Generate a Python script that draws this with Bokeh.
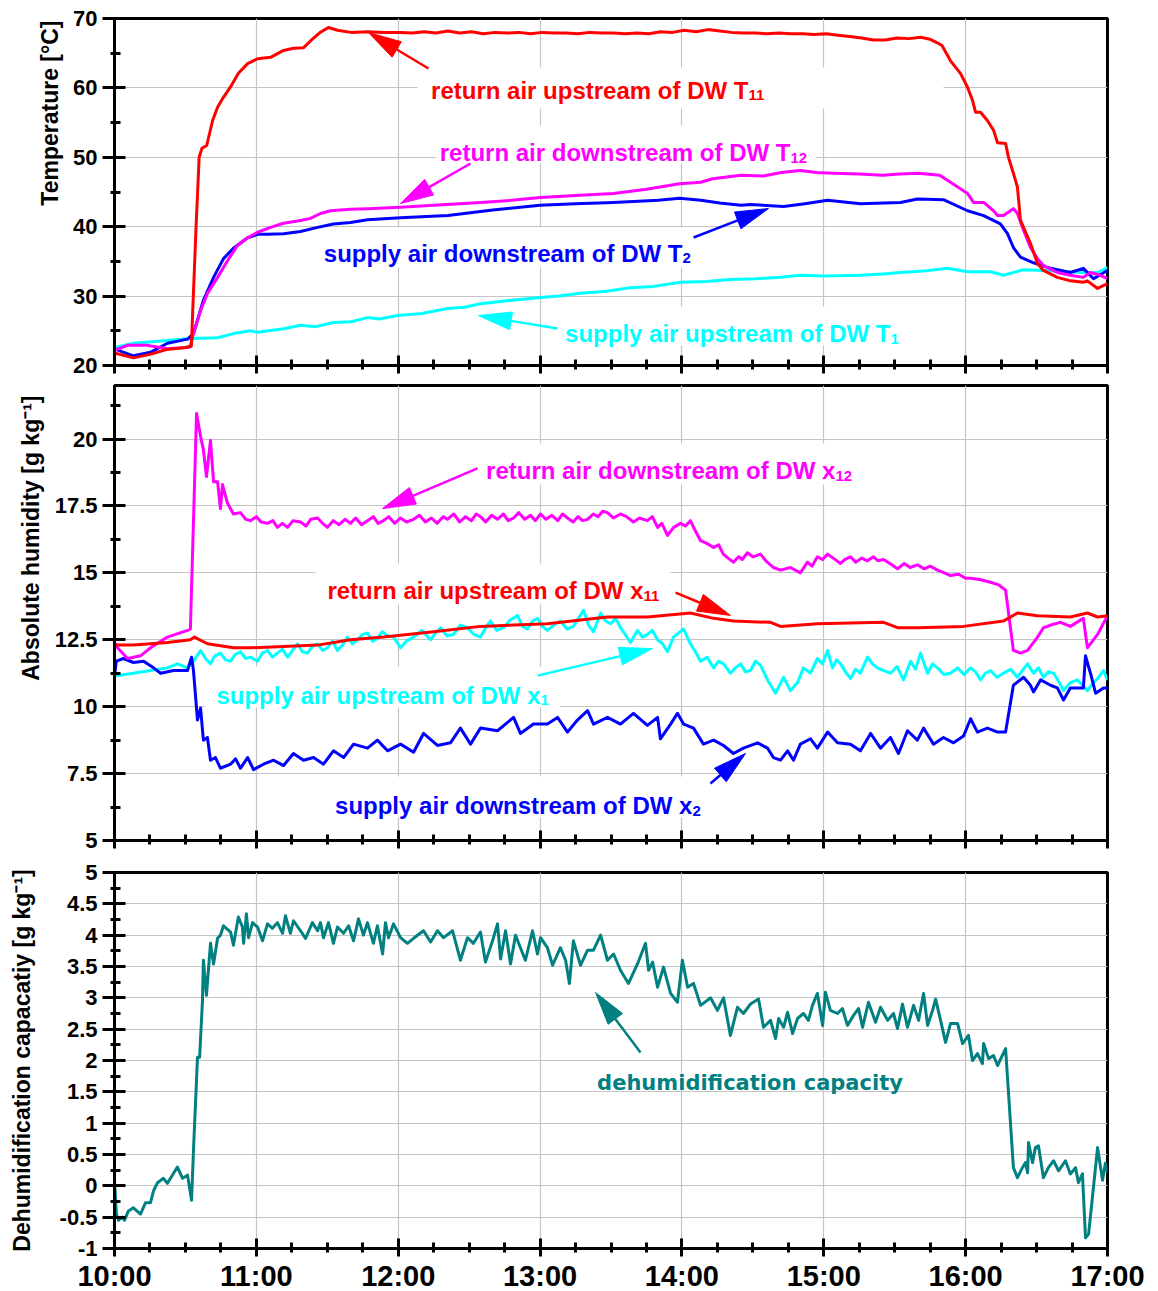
import math
from bokeh.plotting import figure
from bokeh.layouts import column
from bokeh.models import Range1d, FixedTicker, NumeralTickFormatter, Label, BoxAnnotation, Title
from bokeh.embed import file_html
from bokeh.resources import INLINE

# ------------------------------------------------------------------ data
HOURS = [10, 11, 12, 13, 14, 15, 16, 17]
HOUR_LABELS = ["10:00", "11:00", "12:00", "13:00", "14:00", "15:00", "16:00", "17:00"]

# Temperatures (minutes after 10:00, degC)
T11_RETURN_UP = [(0, 21.8), (8, 21.1), (15, 21.6), (22, 22.3), (30, 22.6), (32.5, 22.8), (34.5, 40.0), (35.8, 50.0),
    (37, 51.3), (39, 51.7), (41.5, 55.3), (43.6, 57.2), (46, 58.6), (49, 60.1), (52.4, 62.1), (56.3, 63.5),
    (60.5, 64.2), (66, 64.4), (71.5, 65.4), (75.7, 65.7), (80, 65.8), (83, 66.8), (87, 68.0), (90.5, 68.7),
    (94.3, 68.3), (100, 68.0), (107, 68.1), (114, 68.0), (121, 68.0), (126, 67.9), (131, 68.1), (136, 67.9),
    (141, 68.2), (146, 67.9), (151, 68.1), (156, 67.8), (161, 68.0), (166, 67.9), (171, 68.0), (176, 67.8),
    (181, 68.0), (186, 67.9), (191, 67.9), (196, 67.8), (201, 68.0), (206, 67.9), (211, 67.9), (216, 67.8),
    (221, 67.9), (226, 67.8), (231, 68.1), (236, 68.0), (241, 68.3), (246, 68.1), (251, 68.4), (256, 68.2),
    (261, 68.0), (266, 67.9), (271, 67.9), (276, 67.8), (281, 67.9), (286, 67.8), (291, 67.8), (296, 67.7),
    (301, 67.8), (306, 67.6), (311, 67.4), (316, 67.2), (321, 66.9), (326, 66.9), (331, 67.2), (336, 67.1),
    (341, 67.3), (345, 67.0), (348, 66.5), (350, 66.1), (353.6, 63.9), (357.8, 62.1), (360.8, 60.1),
    (362.9, 58.2), (364.2, 56.5), (366.3, 56.5), (369.2, 55.3), (371.8, 53.9), (373.5, 52.1), (376.9, 52.0),
    (378.1, 50.0), (380.2, 47.7), (381.9, 45.7), (383.2, 40.9), (384.5, 39.9), (387.4, 37.6), (390.4, 34.7),
    (392.9, 33.7), (398.8, 32.7), (404.3, 32.2), (409.8, 32.0), (411.5, 32.2), (415.8, 31.1), (420, 31.8)]

T12_RETURN_DOWN = [(0, 22.2), (5.5, 22.9), (14, 22.9), (22.4, 22.4), (30.9, 22.6), (32, 22.7), (33.4, 24.6),
    (36.4, 27.9), (39.3, 30.4), (43.6, 32.7), (47.8, 35.1), (52, 37.3), (56.3, 38.4), (60.5, 39.2), (66, 39.9),
    (71.5, 40.5), (78.7, 40.9), (82.9, 41.2), (87.1, 41.9), (91.4, 42.3), (99.8, 42.5), (107, 42.6), (121, 42.8),
    (135, 43.1), (155, 43.5), (168, 43.8), (180, 44.2), (195, 44.5), (211, 44.8), (225, 45.4), (239, 46.2),
    (248, 46.4), (253, 46.9), (265, 47.4), (274.5, 47.3), (282, 47.8), (290, 48.1), (297, 47.8), (304, 47.7),
    (315, 47.6), (325, 47.4), (332, 47.6), (340, 47.7), (349, 47.4), (353.6, 46.4), (360.8, 44.8), (363.3, 43.5),
    (367.6, 43.5), (371.8, 42.3), (373.5, 41.6), (376, 41.6), (380.2, 42.6), (381.9, 41.9), (384.5, 39.5),
    (387.4, 37.0), (390.4, 35.4), (392.9, 34.4), (398.8, 33.4), (404.3, 33.0), (409.8, 32.7), (412.8, 33.4),
    (417, 33.0), (420, 32.5)]

T2_SUPPLY_DOWN = [(0, 22.4), (8, 21.4), (15.2, 21.9), (22.4, 23.2), (30.9, 23.8), (33.4, 24.6), (37.6, 29.4),
    (41.9, 32.7), (46.1, 35.4), (50.3, 36.9), (56.3, 38.4), (60.5, 38.9), (64.7, 38.9), (71.5, 39.0), (78.7, 39.3),
    (85.9, 39.9), (92.6, 40.4), (99.8, 40.6), (107, 41.0), (121, 41.3), (141, 41.6), (160, 42.4), (180, 43.1),
    (195, 43.3), (211, 43.5), (230, 43.8), (239, 44.1), (248, 43.8), (256, 43.4), (265, 43.1), (269, 43.2),
    (283, 42.9), (292, 43.3), (301.6, 43.8), (315.5, 43.3), (332.4, 43.5), (339.6, 44.0), (350.6, 43.9),
    (360.8, 42.3), (367.6, 41.6), (374.7, 40.4), (377.7, 39.0), (380.2, 37.0), (383.2, 35.6), (388.7, 34.8),
    (395.9, 34.0), (404.3, 33.4), (409.8, 34.0), (414.1, 32.5), (420, 33.7)]

T1_SUPPLY_UP = [(0, 22.6), (8, 23.2), (22.4, 23.6), (32, 23.9), (43.6, 24.0), (50.3, 24.6), (57.5, 25.0),
    (60.5, 24.8), (71.5, 25.3), (78.7, 25.8), (85, 25.6), (92.6, 26.2), (100, 26.3), (107, 26.9), (112, 26.7),
    (119.7, 27.2), (130, 27.5), (140.8, 28.2), (148, 28.4), (154.8, 28.9), (165, 29.3), (180.2, 29.8), (188, 30.0),
    (197, 30.4), (208, 30.7), (218, 31.2), (228, 31.4), (239.4, 32.0), (250, 32.1), (260.5, 32.4), (271, 32.5),
    (281.7, 32.7), (290, 33.0), (300, 32.9), (315.5, 33.0), (325, 33.2), (332.4, 33.4), (342, 33.6), (352.3, 34.0),
    (360.8, 33.5), (370.5, 33.5), (376, 33.0), (384.5, 33.8), (392.9, 33.7), (409.8, 33.4), (415.8, 33.4),
    (420, 34.1)]

# Absolute humidity (minutes after 10:00, g/kg)
X12_RETURN_DOWN = [(0, 12.4), (1.3, 12.2), (5.5, 11.8), (11, 11.9), (15.2, 12.2), (22.4, 12.6), (30.9, 12.85),
    (32.1, 12.9), (34.7, 20.95), (36.4, 20.1), (37.6, 19.6), (38.9, 18.6), (40.6, 19.95), (41.9, 18.4),
    (43.6, 18.4), (44.8, 17.4), (45.7, 18.3), (47.8, 17.6), (50.3, 17.2), (53.3, 17.25), (55.5, 17.0),
    (57.5, 16.95), (60, 17.1), (62, 16.9), (64.7, 16.85), (67, 16.95), (68.9, 16.7), (71, 16.85), (73.2, 16.7),
    (75.5, 16.95), (78.7, 16.9), (81, 16.75), (83, 17.0), (85.9, 17.05), (88, 16.85), (90.1, 16.7), (92.5, 16.95),
    (95, 16.8), (97.5, 17.0), (99.8, 16.85), (102, 17.05), (104.5, 16.8), (107, 16.95), (109.5, 17.1),
    (111.5, 16.85), (113.8, 16.95), (116, 17.1), (118.5, 16.85), (121, 17.05), (123.5, 16.9), (126.5, 17.0),
    (129, 17.15), (131.5, 16.9), (134, 17.05), (136.5, 16.85), (139, 17.1), (140.8, 17.0), (143.5, 17.2),
    (146, 16.9), (148.5, 17.1), (151, 16.95), (153, 17.2), (154.8, 17.1), (157, 16.9), (159.5, 17.15), (162, 17.0),
    (164.5, 17.2), (166.5, 16.95), (168.8, 17.05), (171, 17.25), (173.5, 17.0), (176, 17.15), (178, 16.95),
    (180.2, 17.2), (182.5, 17.0), (185, 17.15), (187.5, 16.95), (189.5, 17.2), (191.6, 17.05), (194, 16.9),
    (196, 17.1), (198, 16.95), (200.1, 17.0), (202.5, 17.2), (204.5, 17.1), (206.5, 17.3), (208.5, 17.25),
    (211, 17.05), (214, 17.2), (216.5, 17.1), (219.5, 16.9), (222, 17.05), (225.4, 16.95), (227.5, 17.1),
    (229.7, 16.7), (231.5, 16.85), (233.9, 16.4), (236.5, 16.7), (239.4, 16.85), (241.5, 16.75), (243.6, 16.95),
    (245.5, 16.6), (247.9, 16.2), (250.5, 16.1), (253.4, 15.95), (255.5, 16.05), (257.5, 15.7), (259.5, 15.55),
    (261.8, 15.4), (264, 15.6), (265.5, 15.5), (267.7, 15.75), (270, 15.6), (273.2, 15.7), (275.5, 15.45),
    (278.7, 15.2), (281.7, 15.1), (285.9, 15.2), (290.1, 15.0), (293.1, 15.4), (295, 15.25), (297.3, 15.6),
    (299.5, 15.5), (301.6, 15.7), (304, 15.55), (307.1, 15.35), (309, 15.5), (311.3, 15.6), (313.5, 15.4),
    (316, 15.55), (318.5, 15.45), (321, 15.6), (323, 15.45), (325.3, 15.5), (328, 15.35), (331.2, 15.15),
    (334, 15.35), (336.5, 15.2), (339.6, 15.3), (342.5, 15.15), (345, 15.25), (348.1, 15.1), (351, 15.0),
    (353.6, 14.9), (357, 14.95), (360, 14.8), (362.1, 14.8), (366, 14.75), (370.5, 14.65), (374, 14.55),
    (376.9, 14.35), (380.2, 12.1), (383.2, 12.0), (386.2, 12.1), (390.4, 12.6), (392.9, 12.95), (396, 13.05),
    (400.1, 13.15), (404.3, 13.0), (407, 13.15), (409.8, 13.3), (411.5, 12.2), (415.8, 12.7), (420, 13.4)]

X11_RETURN_UP = [(0, 12.3), (8, 12.3), (22.4, 12.4), (32.1, 12.5), (33.8, 12.6), (39.3, 12.35), (50.3, 12.2),
    (57.5, 12.2), (71.5, 12.25), (85.9, 12.3), (99.8, 12.5), (113.8, 12.6), (135, 12.8), (154.8, 13.0),
    (183.1, 13.1), (208.5, 13.35), (225.4, 13.35), (243.6, 13.5), (253.4, 13.3), (261.8, 13.2), (277.5, 13.15),
    (281.7, 13.0), (297.3, 13.1), (325.3, 13.15), (331.2, 12.95), (339.6, 12.95), (359.1, 13.0), (376, 13.2),
    (381.9, 13.5), (390.4, 13.4), (404.3, 13.35), (411.5, 13.5), (415.8, 13.35), (420, 13.4)]

X1_SUPPLY_UP = [(0, 11.15), (8, 11.25), (15.2, 11.35), (22.4, 11.45), (26.6, 11.6), (30.9, 11.45), (33.4, 11.7),
    (36.4, 12.1), (38.5, 11.8), (40.6, 11.6), (42.5, 11.9), (44.8, 12.0), (47, 11.75), (49.1, 11.7), (51, 11.95),
    (53.3, 12.05), (55.5, 11.8), (57.5, 11.85), (60.5, 11.7), (62.5, 12.0), (64.7, 12.1), (66.8, 11.85),
    (68.9, 12.0), (71, 12.15), (73.2, 11.85), (75.3, 12.1), (77.4, 12.35), (79.5, 12.05), (81.6, 12.0),
    (83.7, 12.25), (85.9, 12.35), (88, 12.1), (90.1, 12.2), (92.2, 12.45), (94.3, 12.1), (96.4, 12.3),
    (98.5, 12.6), (100.6, 12.35), (102.8, 12.5), (104.9, 12.7), (107, 12.75), (109.1, 12.45), (111.2, 12.55),
    (113.3, 12.8), (115.5, 12.65), (118, 12.6), (121, 12.2), (123.5, 12.45), (126.5, 12.6), (130, 12.85),
    (133.7, 12.5), (135.8, 12.75), (137.9, 12.95), (140.6, 12.65), (143.4, 12.7), (146.3, 13.05), (149.3, 12.95),
    (152, 12.7), (154.8, 12.6), (157, 12.95), (159, 13.2), (161.7, 12.85), (164.5, 12.95), (167.5, 13.25),
    (170.5, 13.4), (172.6, 13.0), (174.7, 12.9), (176.8, 13.2), (178.9, 13.3), (181, 13.0), (183.1, 12.85),
    (185.8, 13.05), (188.6, 13.2), (191.4, 12.9), (194.1, 13.0), (196.2, 13.3), (198.4, 13.6), (200.5, 13.05),
    (202.6, 12.8), (205.6, 13.5), (207.7, 13.2), (209.8, 13.1), (212, 13.3), (214, 12.95), (216, 12.7),
    (218.2, 12.4), (221.2, 12.85), (223.3, 12.6), (225.4, 12.7), (227.5, 12.85), (229.7, 12.5), (231.8, 12.35),
    (233.9, 12.05), (236.4, 12.6), (238.5, 12.75), (240.7, 12.9), (243.6, 12.35), (245.7, 12.05),
    (247.9, 11.7), (250.6, 11.85), (253.4, 11.45), (255.5, 11.7), (257.6, 11.6), (260.5, 11.25), (262.6, 11.45),
    (264.8, 11.6), (266.9, 11.3), (269, 11.35), (271.1, 11.7), (273.2, 11.55), (276.2, 11.0), (279.6, 10.5),
    (281.3, 10.8), (283, 11.1), (285.9, 10.6), (288.9, 10.9), (291.4, 11.45), (294.4, 11.25), (297.3, 11.8),
    (299.4, 11.6), (301.6, 12.1), (303.7, 11.45), (305.4, 11.75), (307.1, 11.6), (309.2, 11.3), (311.3, 11.05),
    (313.4, 11.4), (315.5, 11.25), (318.5, 11.85), (320.6, 11.6), (322.7, 11.45), (325.3, 11.35), (328.2, 11.25),
    (331, 11.5), (333.7, 11.0), (336.7, 11.7), (338.8, 11.4), (340.9, 12.0), (343.9, 11.25), (346, 11.6),
    (348.1, 11.45), (350.8, 11.2), (353.6, 11.25), (356.6, 11.45), (359.3, 11.2), (362.1, 11.45), (364.2, 11.3),
    (366.3, 11.0), (368.4, 11.25), (370.5, 11.35), (373.2, 11.1), (376, 11.25), (379, 11.4), (381.9, 11.1),
    (384, 11.35), (386.2, 11.6), (388.7, 11.25), (390.8, 11.45), (392.9, 11.1), (395, 11.3), (397.2, 11.25),
    (399.3, 10.95), (401.4, 10.6), (404.3, 10.9), (407.3, 11.0), (409.4, 10.8), (411.5, 10.6), (413.6, 10.85),
    (415.8, 11.05), (418.3, 11.35), (420, 11.0)]

X2_SUPPLY_DOWN = [(0, 11.15), (0.8, 11.7), (3.8, 11.8), (8, 11.65), (12.3, 11.7), (16.5, 11.45), (19.5, 11.25),
    (25, 11.35), (30.9, 11.35), (32.6, 11.85), (33.4, 11.35), (35.1, 9.5), (36.4, 9.95), (37.6, 8.75),
    (39.3, 8.85), (40.6, 8.0), (42.7, 8.1), (44.8, 7.7), (49.1, 7.85), (51.2, 8.05), (53.3, 7.7), (56.3, 8.1),
    (58.8, 7.65), (63, 7.85), (67.3, 8.0), (71.5, 7.8), (75.7, 8.25), (79.9, 8.0), (84.2, 8.1), (88.4, 7.85),
    (92.6, 8.35), (96.9, 8.1), (101.1, 8.6), (107, 8.45), (111.2, 8.75), (115.5, 8.35), (121, 8.6), (126.5, 8.3),
    (130.7, 9.0), (136.6, 8.55), (142.1, 8.65), (146.3, 9.2), (150.6, 8.6), (154.8, 9.2), (162, 9.1),
    (168.8, 9.6), (171.7, 9.0), (177.2, 9.35), (183.1, 9.35), (187.4, 9.6), (191.6, 9.05), (195.8, 9.5),
    (200.1, 9.85), (202.6, 9.35), (208.5, 9.6), (214, 9.35), (219.5, 9.75), (225.4, 9.3), (229.7, 9.6),
    (230.9, 8.8), (235.2, 9.35), (238.1, 9.75), (240.7, 9.35), (244.9, 9.2), (249.1, 8.6), (253.4, 8.75),
    (257.6, 8.55), (261.8, 8.25), (266, 8.45), (272, 8.65), (276.2, 8.45), (278.7, 8.1), (281.7, 8.0),
    (284.7, 8.35), (287.2, 8.0), (290.1, 8.6), (294.4, 8.8), (297.3, 8.45), (301.6, 9.05), (305.8, 8.65),
    (311.3, 8.6), (315.5, 8.35), (319.8, 9.0), (324, 8.45), (328.2, 8.85), (331.6, 8.25), (335.4, 9.1),
    (339.6, 8.75), (342.2, 9.2), (346.4, 8.6), (350.6, 8.85), (354.9, 8.65), (359.1, 8.9), (362.1, 9.55),
    (365, 9.05), (369.2, 9.2), (373.5, 9.05), (376.9, 9.05), (380.2, 10.8), (384.5, 11.1), (387.4, 10.8),
    (388.7, 10.55), (391.7, 11.0), (395.9, 10.8), (398.8, 10.7), (401.4, 10.25), (404.3, 10.7), (409.8, 10.7),
    (410.7, 11.9), (412.8, 11.25), (415, 10.5), (418.3, 10.7), (420, 10.7)]

# Dehumidification capacity (minutes after 10:00, g/kg)
DEHUM = [(0, 0.09), (0.8, -0.45), (1.7, -0.55), (3.4, -0.5), (4.2, -0.55), (5.9, -0.4), (8, -0.35), (11, -0.45),
    (13.1, -0.27), (15.2, -0.27), (16.5, -0.08), (18.2, 0.05), (20.7, 0.12), (22.4, 0.04), (23.7, 0.12),
    (26.6, 0.3), (28.8, 0.12), (30.9, 0.17), (32.6, -0.23), (33.4, 0.56), (35.1, 2.05), (36, 2.05), (37.2, 2.95),
    (37.6, 3.6), (38.9, 3.04), (40.6, 3.87), (41.9, 3.54), (43.6, 3.95), (44.8, 4.0), (46.1, 4.15), (49.1, 4.05),
    (50.3, 3.84), (52.4, 4.29), (54.1, 4.13), (54.6, 3.87), (55.8, 4.34), (56.7, 3.96), (58.4, 4.2), (60.5, 4.13),
    (62.6, 3.91), (64.7, 4.18), (66.8, 4.11), (68.9, 4.2), (71.1, 4.03), (72.3, 4.31), (74.4, 4.03), (75.7, 4.23),
    (78.7, 4.07), (80.8, 3.95), (83.7, 4.2), (85.9, 4.07), (87.1, 4.2), (88.4, 3.96), (90.5, 4.2), (92.6, 3.87),
    (94.3, 4.13), (96.9, 4.03), (99, 4.15), (101.1, 3.91), (103.2, 4.26), (105.3, 4.0), (107, 4.2), (109.5, 3.87),
    (111.2, 4.15), (113.4, 3.7), (114.6, 4.2), (115.9, 3.96), (118, 4.18), (121, 3.96), (123.9, 3.87),
    (126.5, 3.95), (130.7, 4.07), (133.7, 3.89), (136.6, 4.07), (139.2, 3.96), (143, 4.07), (146.3, 3.6),
    (149.3, 3.96), (151.8, 3.87), (154.8, 4.05), (156.9, 3.57), (159.9, 3.91), (162, 4.18), (163.3, 3.62),
    (165.4, 4.07), (167.5, 3.54), (169.6, 4.0), (171.7, 3.8), (173.8, 3.6), (176.8, 4.07), (178.9, 3.7),
    (180.2, 3.96), (183.1, 3.8), (185.3, 3.52), (188.6, 3.8), (190.8, 3.6), (192.4, 3.23), (194.1, 3.91),
    (197.1, 3.52), (200.1, 3.76), (202.6, 3.76), (205.6, 4.0), (208.5, 3.6), (211.1, 3.7), (214, 3.44),
    (217.4, 3.23), (221.2, 3.54), (224.6, 3.87), (225.9, 3.44), (227.6, 3.57), (229.7, 3.17), (232.2, 3.49),
    (235.2, 3.07), (238.1, 2.93), (240.2, 3.6), (242.4, 3.17), (244.9, 3.23), (247.9, 2.88), (252.1, 3.0),
    (255, 2.8), (257.6, 3.0), (260.5, 2.4), (263.5, 2.85), (266, 2.75), (269, 2.9), (272.4, 2.98), (274.5, 2.53),
    (277.5, 2.64), (279.6, 2.35), (280.9, 2.67), (283, 2.53), (284.7, 2.77), (286.8, 2.43), (288.9, 2.67),
    (291.4, 2.75), (293.5, 2.64), (295.2, 2.88), (297.3, 3.07), (299.5, 2.56), (300.7, 3.09), (302.8, 2.8),
    (305.8, 2.75), (307.9, 2.83), (310, 2.56), (312.6, 2.72), (314.7, 2.83), (316.4, 2.53), (318.9, 2.93),
    (321.9, 2.61), (324, 2.85), (327, 2.64), (329.5, 2.75), (331.2, 2.51), (333.3, 2.9), (335.4, 2.53),
    (338, 2.88), (340.1, 2.64), (342.2, 3.07), (343.9, 2.56), (346, 2.8), (347.3, 2.98), (349.4, 2.64),
    (351.5, 2.29), (353.6, 2.59), (356.6, 2.59), (358.7, 2.27), (361.2, 2.4), (362.9, 2.0), (365, 2.11),
    (367.1, 1.95), (367.6, 2.27), (369.7, 2.03), (371.8, 2.08), (373.5, 1.92), (376.9, 2.19), (380.2, 0.29),
    (381.9, 0.13), (384, 0.29), (385.3, 0.37), (386.2, 0.21), (386.6, 0.69), (388.3, 0.37), (389.5, 0.61),
    (390.8, 0.64), (392.9, 0.13), (395, 0.29), (397.2, 0.4), (399.3, 0.24), (402.2, 0.4), (404.3, 0.19),
    (406.5, 0.29), (407.7, 0.05), (409.4, 0.19), (410.7, -0.83), (412, -0.77), (413.6, -0.19), (415.8, 0.61),
    (417.9, 0.09), (419.1, 0.36), (420, 0.21)]

# ------------------------------------------------------------------ styling
FONT = "Liberation Sans"
RED, MAGENTA, BLUE, CYAN, TEAL = "#ff0000", "#ff00ff", "#0000ff", "#00ffff", "#008080"
GRID = "#c4c4c4"
FRAME_W = 993
SX = FRAME_W / 7.0


def hx(pairs):
    return [10 + m / 60.0 for m, _ in pairs]


def vy(pairs):
    return [v for _, v in pairs]


def make_panel(frame_h, yr, yticks, yminor, b_top, b_bottom, show_x):
    p = figure(frame_width=FRAME_W, frame_height=frame_h, x_range=Range1d(10, 17), y_range=Range1d(*yr),
               output_backend="svg", toolbar_location=None, min_border_left=114, min_border_right=38,
               min_border_top=b_top, min_border_bottom=b_bottom, background_fill_color="white",
               border_fill_color="white")
    p.outline_line_color = "black"
    p.outline_line_width = 3
    xt = FixedTicker(ticks=HOURS, minor_ticks=[10 + i * 0.25 for i in range(29)])
    yt = FixedTicker(ticks=yticks, minor_ticks=yminor)
    p.xaxis.ticker = xt
    p.yaxis.ticker = yt
    p.xgrid.ticker = xt
    p.ygrid.ticker = yt
    for g in (p.xgrid, p.ygrid):
        g.grid_line_color = GRID
        g.grid_line_width = 1.2
    for ax in (p.xaxis[0], p.yaxis[0]):
        ax.axis_line_width = 3
        ax.major_tick_line_width = 3
        ax.minor_tick_line_width = 3
        ax.major_label_text_font = FONT
        ax.major_label_text_font_style = "bold"
        ax.major_label_text_color = "black"
    ya = p.yaxis[0]
    ya.major_tick_in, ya.major_tick_out = 11, 12
    ya.minor_tick_in, ya.minor_tick_out = 6, 4
    ya.major_label_text_font_size = "22px"
    ya.major_label_standoff = 5
    ya.formatter = NumeralTickFormatter(format="0.[0]")
    ya.axis_label_text_font = FONT
    ya.axis_label_text_font_style = "bold"
    ya.axis_label_text_font_size = "23px"
    ya.axis_label_text_color = "black"
    xa = p.xaxis[0]
    xa.major_tick_in, xa.major_tick_out = 10, 8
    xa.minor_tick_in, xa.minor_tick_out = 6, 4
    xa.major_label_overrides = dict(zip(HOURS, HOUR_LABELS))
    if show_x:
        xa.major_label_text_font_size = "29px"
        xa.major_label_standoff = 3
    else:
        # time labels are shown only under the bottom panel
        xa.major_label_text_font_size = "1px"
        xa.major_label_text_color = None
        xa.major_label_standoff = 0
    return p


def add_ytitle(p, text, standoff, offset):
    # vertical title, pinned to the top end of the axis
    p.add_layout(Title(text=text, align="right", vertical_align="top", standoff=standoff, offset=offset,
                       text_font=FONT, text_font_style="bold", text_font_size="23px", text_color="black"), "left")


def add_box(p, left, right, top, bottom):
    p.add_layout(BoxAnnotation(left=left, right=right, top=top, bottom=bottom, fill_color="white",
                               fill_alpha=1.0, line_color=None, level="underlay"))


def add_text(p, x_end, y, main, sub, color, size="24px"):
    p.add_layout(Label(x=x_end, y=y, text=main, text_align="right", text_baseline="alphabetic",
                       text_font=FONT, text_font_style="bold", text_font_size=size, text_color=color))
    if sub:
        p.add_layout(Label(x=x_end, y=y, y_offset=-5, text=sub, text_align="left", text_baseline="alphabetic",
                           text_font=FONT, text_font_style="bold", text_font_size="15px", text_color=color))


def add_arrow(p, sy, tail, tip, color, head_len=33.0, head_half=9.0, width=2.5):
    (x0, y0), (x1, y1) = tail, tip
    dx, dy = (x1 - x0) * SX, (y1 - y0) * sy
    n = math.hypot(dx, dy)
    ux, uy = dx / n, dy / n
    bx, by = x1 - head_len * ux / SX, y1 - head_len * uy / sy
    ox, oy = -uy * head_half / SX, ux * head_half / sy
    p.line([x0, bx], [y0, by], line_color=color, line_width=width)
    p.patch([x1, bx + ox, bx - ox], [y1, by + oy, by - oy], fill_color=color, line_color=color, line_width=1)


LW = 3

# ------------------------------------------------------------------ panel 1: temperature
SY1 = 347 / 50.0
p1 = make_panel(347, (20, 70), [20, 30, 40, 50, 60, 70], [25, 35, 45, 55, 65], 18, 14, False)
add_ytitle(p1, "Temperature [°C]", 12, 2)
add_box(p1, 12.136, 15.844, 62.94, 57.03)
add_box(p1, 12.270, 14.941, 54.58, 49.11)
add_box(p1, 11.417, 14.166, 39.88, 34.12)
add_box(p1, 13.116, 15.625, 28.50, 22.88)
for data, col in ((T1_SUPPLY_UP, CYAN), (T2_SUPPLY_DOWN, BLUE), (T12_RETURN_DOWN, MAGENTA), (T11_RETURN_UP, RED)):
    p1.line(hx(data), vy(data), line_color=col, line_width=LW, line_join="round")
add_text(p1, 14.469, 59.63, "return air upstream of DW T", "11", RED)
add_text(p1, 14.765, 50.69, "return air downstream of DW T", "12", MAGENTA)
add_text(p1, 14.004, 36.14, "supply air downstream of DW T", "2", BLUE)
add_text(p1, 15.470, 24.61, "supply air upstream of DW T", "1", CYAN)
add_arrow(p1, SY1, (12.213, 62.80), (11.790, 67.98), RED)
add_arrow(p1, SY1, (12.510, 49.11), (12.016, 43.34), MAGENTA)
add_arrow(p1, SY1, (14.082, 38.44), (14.610, 42.62), BLUE)
add_arrow(p1, SY1, (13.123, 25.33), (12.566, 27.20), CYAN)

# ------------------------------------------------------------------ panel 2: absolute humidity
SY2 = 455 / 17.0
p2 = make_panel(455, (5, 22), [5, 7.5, 10, 12.5, 15, 17.5, 20], [6.25, 8.75, 11.25, 13.75, 16.25, 18.75, 21.25],
                6, 16, False)
add_ytitle(p2, "Absolute humidity [g kg⁻¹]", 12, 10)
add_box(p2, 12.552, 15.301, 19.83, 18.30)
add_box(p2, 11.417, 13.919, 15.35, 13.82)
add_box(p2, 10.634, 13.137, 11.50, 9.97)
add_box(p2, 11.480, 14.229, 7.39, 5.86)
for data, col in ((X1_SUPPLY_UP, CYAN), (X2_SUPPLY_DOWN, BLUE), (X12_RETURN_DOWN, MAGENTA), (X11_RETURN_UP, RED)):
    p2.line(hx(data), vy(data), line_color=col, line_width=LW, line_join="round")
add_text(p2, 15.082, 18.82, "return air downstream of DW x", "12", MAGENTA)
add_text(p2, 13.729, 14.34, "return air upstream of DW x", "11", RED)
add_text(p2, 13.003, 10.42, "supply air upstream of DW x", "1", CYAN)
add_text(p2, 14.074, 6.30, "supply air downstream of DW x", "2", BLUE)
add_arrow(p2, SY2, (12.559, 18.90), (11.889, 17.40), MAGENTA)
add_arrow(p2, SY2, (13.955, 14.26), (14.342, 13.41), RED)
add_arrow(p2, SY2, (12.982, 11.16), (13.792, 12.17), CYAN)
add_arrow(p2, SY2, (14.201, 7.13), (14.448, 8.25), BLUE)

# ------------------------------------------------------------------ panel 3: dehumidification capacity
SY3 = 376 / 6.0
p3 = make_panel(376, (-1, 5), [-1 + 0.5 * i for i in range(13)], [-0.75 + 0.5 * i for i in range(12)],
                16, 38, True)
p3.yaxis[0].axis_label = "Dehumidification capacatiy [g kg⁻¹]"
p3.yaxis[0].axis_label_standoff = 22
p3.line(hx(DEHUM), vy(DEHUM), line_color=TEAL, line_width=LW, line_join="round")
p3.add_layout(Label(x=14.480, y=1.633, text="dehumidification capacity", text_align="center",
                    text_baseline="alphabetic", text_font="DejaVu Sans", text_font_style="bold",
                    text_font_size="21px", text_color=TEAL))
add_arrow(p3, SY3, (13.708, 2.128), (13.391, 3.085), TEAL)

layout = column(p1, p2, p3, spacing=0)
open("out.html", "w").write(file_html(layout, INLINE))
